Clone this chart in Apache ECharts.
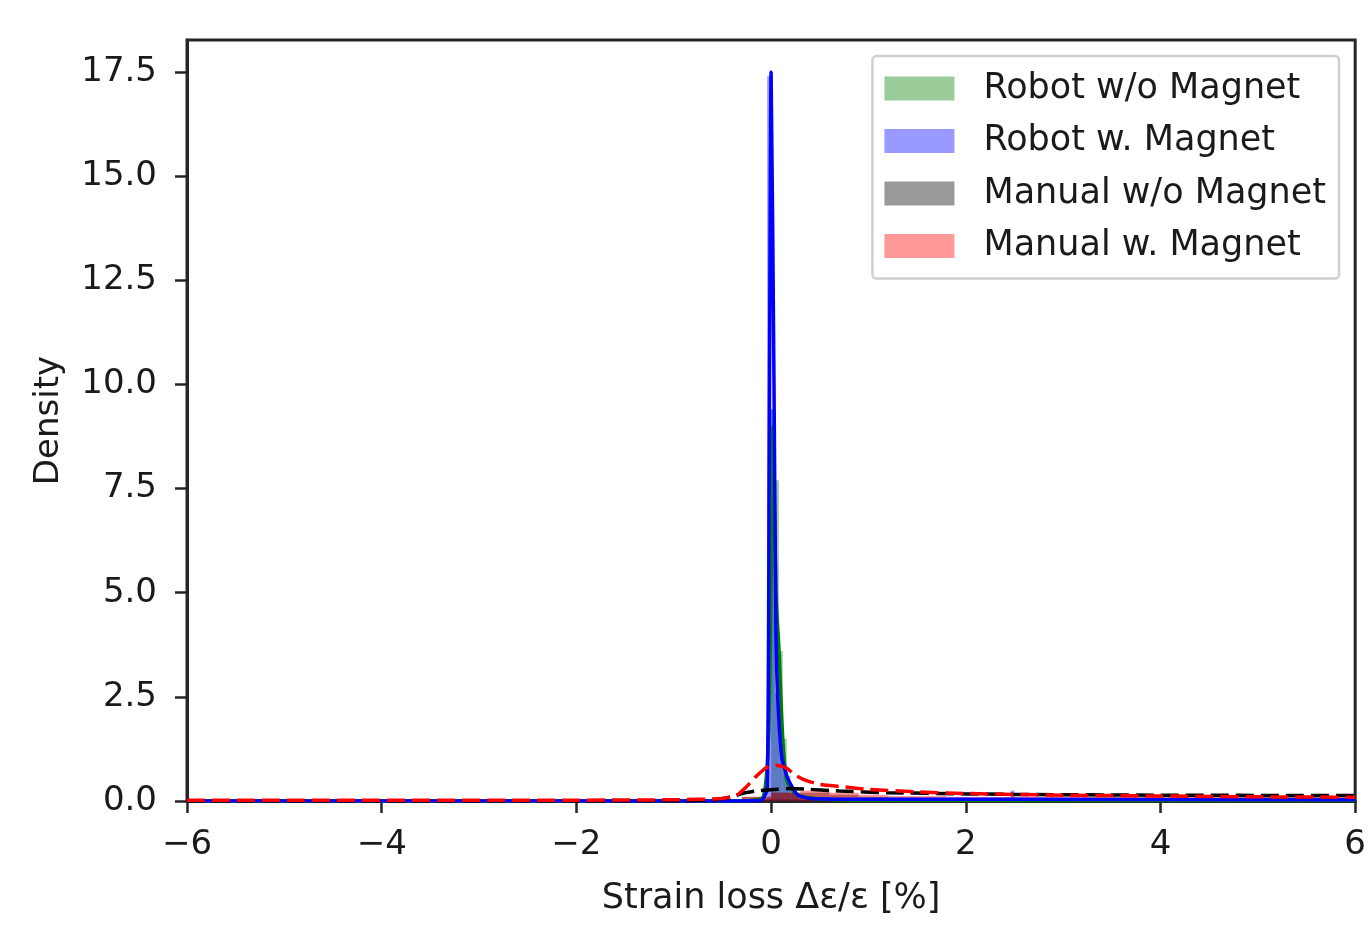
<!DOCTYPE html>
<html>
<head>
<meta charset="utf-8">
<script src="https://cdn.jsdelivr.net/npm/echarts@6/dist/echarts.min.js"></script>
<style>
  html, body { margin: 0; padding: 0; background: #fff; }
  #chart { width: 1369px; height: 925px; }
</style>
</head>
<body>
<div id="chart"></div>
<script>
// legend / series names
const names = ['Robot w/o Magnet', 'Robot w. Magnet', 'Manual w/o Magnet', 'Manual w. Magnet']

// histogram bins (left edge, height), bin width per series
const greenWidth = 0.04
const greenLefts = [0, 0.04, 0.08, 0.12, 0.16, 0.2, 0.24]
const greenHeights = [9.4, 7.7, 3.6, 1.5, 0.6, 0.3, 0.15]

const blueWidth = 0.04
const blueLefts = [-0.04, 0, 0.04, 0.08, 0.12, 0.16, 0.2, 0.24, 0.28, 2.46]
const blueHeights = [17.4, 9.4, 2.6, 1.4, 0.7, 0.4, 0.2, 0.12, 0.08, 0.25]

const greyWidth = 0.3
const greyLefts = [-0.6, -0.3, 0, 0.3, 0.6, 0.9, 1.2, 1.5, 1.8, 2.1, 2.4, 2.7, 3.0, 3.6, 4.2, 4.8, 5.4]
const greyHeights = [0.03, 0.1, 0.2, 0.2, 0.15, 0.1, 0.08, 0.08, 0.07, 0.07, 0.06, 0.06, 0.06, 0.05, 0.05, 0.05, 0.05]

const redWidth = 0.3
const redLefts = [-0.3, 0, 0.3, 0.6, 0.9, 1.2, 1.5, 1.8, 2.1, 2.4, 2.7, 3.0, 3.3, 3.6, 3.9, 4.2, 4.5, 4.8, 5.1, 5.4, 5.7]
const redHeights = [0.1, 0.2, 0.25, 0.2, 0.15, 0.12, 0.12, 0.1, 0.1, 0.1, 0.1, 0.1, 0.1, 0.1, 0.1, 0.1, 0.1, 0.1, 0.1, 0.1, 0.1]

// KDE curves [x, density]
const greenKde = [[-6, 0], [-0.3, 0], [-0.08, 0.1], [-0.02, 2], [0.02, 9], [0.05, 5], [0.08, 3.7], [0.12, 1.5], [0.16, 0.5], [0.22, 0.25], [0.3, 0.12], [0.5, 0.05], [1, 0.02], [6, 0.01]]
const blueKde = [[-6, 0], [-0.5, 0], [-0.1, 0.02], [-0.04, 0.3], [-0.02, 8], [0, 17.5], [0.03, 10], [0.05, 4], [0.07, 2.4], [0.11, 1.05], [0.17, 0.55], [0.27, 0.15], [0.4, 0.06], [1, 0.04], [2.5, 0.04], [6, 0.03]]
const blackKde = [[-6, 0], [-1, 0.005], [-0.6, 0.03], [-0.4, 0.1], [-0.3, 0.18], [-0.15, 0.24], [0, 0.27], [0.2, 0.3], [0.4, 0.28], [0.7, 0.24], [1.2, 0.2], [2, 0.17], [3, 0.15], [4, 0.14], [6, 0.13]]
const redKde = [[-6, 0.02], [-2, 0.02], [-1, 0.03], [-0.5, 0.06], [-0.35, 0.15], [-0.25, 0.35], [-0.15, 0.6], [-0.05, 0.8], [0.05, 0.86], [0.15, 0.8], [0.25, 0.62], [0.35, 0.5], [0.5, 0.4], [0.7, 0.35], [1.0, 0.28], [1.5, 0.22], [2, 0.18], [3, 0.14], [4, 0.12], [5, 0.1], [6, 0.09]]

const xTicks = [-6, -4, -2, 0, 2, 4, 6]
const yTicks = [0, 2.5, 5, 7.5, 10, 12.5, 15, 17.5]

const textColor = '#1a1a1a'
const axisColor = '#262626'
const fontFamily = 'DejaVu Sans'
const fontSize = 34

function bins(lefts, heights, w) {
    return lefts.map((l, i) => [l, l + w, heights[i]])
}

function histSeries(name, data, color) {
    return {
        name: name,
        type: 'custom',
        itemStyle: { color: color },
        encode: { x: [0, 1], y: 2 },
        data: data,
        z: 2,
        renderItem: function (params, api) {
            const p0 = api.coord([api.value(0), api.value(2)])
            const p1 = api.coord([api.value(1), 0])
            return {
                type: 'rect',
                shape: { x: p0[0], y: p0[1], width: p1[0] - p0[0], height: p1[1] - p0[1] },
                style: { fill: color }
            }
        }
    }
}

function kdeSeries(name, data, color, dashed) {
    return {
        name: name,
        type: 'line',
        data: data,
        showSymbol: false,
        smooth: 0.2,
        z: 5,
        lineStyle: { color: color, width: 3.5, type: dashed ? [18, 7] : 'solid' }
    }
}

const chart = echarts.init(document.getElementById('chart'))
chart.setOption({
    animation: false,
    backgroundColor: '#fff',
    textStyle: { fontFamily: fontFamily },
    grid: {
        left: 187,
        right: 13,
        top: 40,
        bottom: 124,
        show: true,
        borderColor: axisColor,
        borderWidth: 3,
        backgroundColor: 'transparent'
    },
    legend: {
        data: names.map((n, i) => ({
            name: n,
            icon: 'rect',
            itemStyle: { color: ['rgba(0,128,0,0.4)', 'rgba(0,0,255,0.4)', 'rgba(0,0,0,0.4)', 'rgba(255,0,0,0.4)'][i] }
        })),
        orient: 'vertical',
        right: 30,
        top: 56,
        itemWidth: 70,
        itemHeight: 24,
        itemGap: 17.5,
        padding: [15, 13, 15, 12],
        backgroundColor: '#fff',
        borderColor: '#d0d0d0',
        borderWidth: 2.5,
        borderRadius: 4,
        textStyle: { fontSize: 35, color: textColor, fontFamily: fontFamily, padding: [0, 0, 0, 24] }
    },
    xAxis: {
        type: 'value',
        min: -6,
        max: 6,
        interval: 2,
        name: 'Strain loss Δε/ε [%]',
        nameLocation: 'middle',
        nameGap: 80,
        nameTextStyle: { fontSize: 35, color: textColor },
        axisLine: { show: true, onZero: false, lineStyle: { color: axisColor, width: 3 } },
        axisTick: { show: true, length: 12, lineStyle: { color: axisColor, width: 2.5 }, customValues: xTicks },
        axisLabel: {
            fontSize: fontSize, color: textColor, margin: 27,
            customValues: xTicks,
            formatter: v => (v < 0 ? '\u2212' + Math.abs(v) : String(v))
        },
        splitLine: { show: false }
    },
    yAxis: {
        type: 'value',
        min: 0,
        max: 18.27,
        name: 'Density',
        nameLocation: 'middle',
        nameGap: 121,
        nameTextStyle: { fontSize: fontSize, color: textColor },
        axisLine: { show: true, onZero: false, lineStyle: { color: axisColor, width: 3 } },
        axisTick: { show: true, length: 12, lineStyle: { color: axisColor, width: 2.5 }, customValues: yTicks },
        axisLabel: {
            fontSize: fontSize, color: textColor, margin: 30,
            customValues: yTicks,
            formatter: v => v.toFixed(1)
        },
        splitLine: { show: false }
    },
    series: [
        histSeries(names[0], bins(greenLefts, greenHeights, greenWidth), 'rgba(0,128,0,0.4)'),
        histSeries(names[1], bins(blueLefts, blueHeights, blueWidth), 'rgba(0,0,255,0.4)'),
        histSeries(names[2], bins(greyLefts, greyHeights, greyWidth), 'rgba(0,0,0,0.4)'),
        histSeries(names[3], bins(redLefts, redHeights, redWidth), 'rgba(255,0,0,0.4)'),
        kdeSeries('kde green', greenKde, '#008000', false),
        kdeSeries('kde blue', blueKde, '#0000ff', false),
        kdeSeries('kde black', blackKde, '#000000', true),
        kdeSeries('kde red', redKde, '#ff0000', true)
    ]
})
</script>
</body>
</html>
